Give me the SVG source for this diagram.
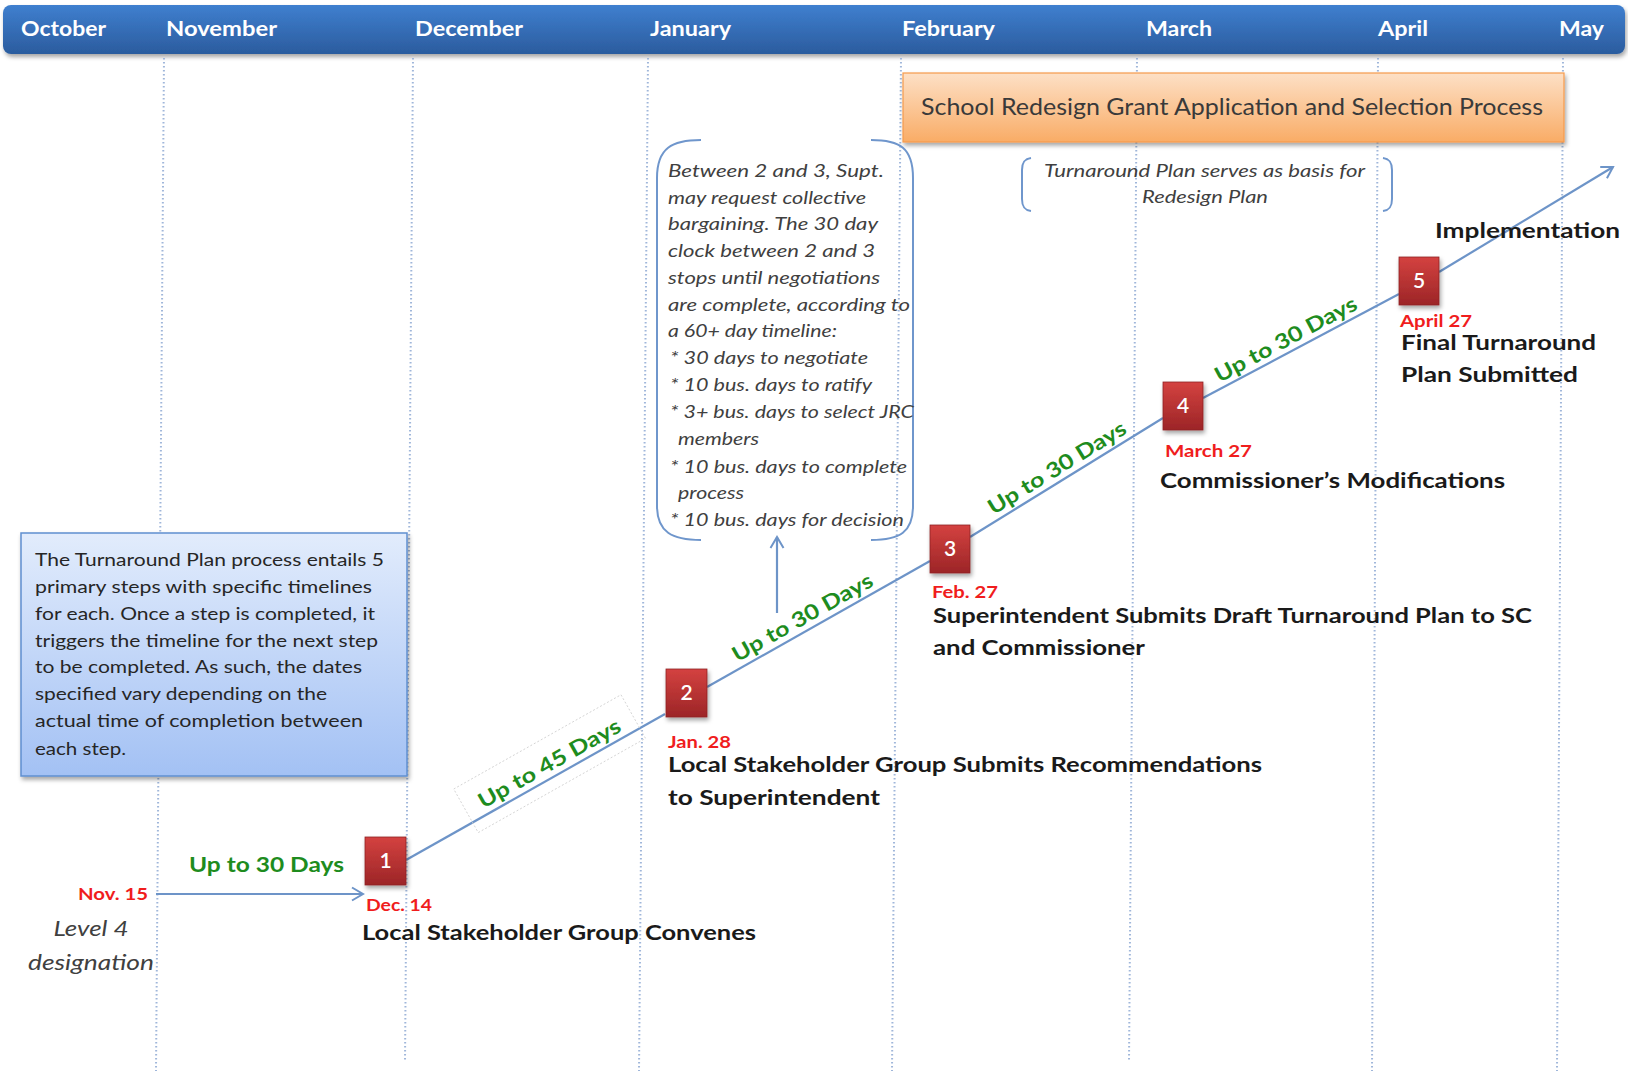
<svg xmlns="http://www.w3.org/2000/svg" width="1628" height="1071" viewBox="0 0 1628 1071">
  <defs>
    <linearGradient id="gHeader" x1="0" y1="0" x2="0" y2="1">
      <stop offset="0" stop-color="#3f7fcf"/>
      <stop offset="1" stop-color="#2b5c9e"/>
    </linearGradient>
    <linearGradient id="gStep" x1="0" y1="0" x2="0" y2="1">
      <stop offset="0" stop-color="#d44240"/>
      <stop offset="1" stop-color="#9c2527"/>
    </linearGradient>
    <linearGradient id="gOrange" x1="0" y1="0" x2="0" y2="1">
      <stop offset="0" stop-color="#fde0c6"/>
      <stop offset="1" stop-color="#f9ac66"/>
    </linearGradient>
    <linearGradient id="gNote" x1="0" y1="0" x2="0" y2="1">
      <stop offset="0" stop-color="#e2ecfc"/>
      <stop offset="1" stop-color="#a3c1f4"/>
    </linearGradient>
    <filter id="shadow" x="-10%" y="-10%" width="130%" height="140%">
      <feDropShadow dx="1.5" dy="3" stdDeviation="2" flood-color="#000" flood-opacity="0.35"/>
    </filter>
    <marker id="chev" markerWidth="16" markerHeight="16" refX="13" refY="8" orient="auto" markerUnits="userSpaceOnUse">
      <path d="M2,1.5 L13,8 L2,14.5" fill="none" stroke="#6d94c8" stroke-width="2"/>
    </marker>
  </defs>
  <style>
    .month { font-family: Lato, "Liberation Sans", sans-serif; font-weight: bold; font-size: 21px; fill: #ffffff; }
    .grid { stroke: #9fb6da; stroke-width: 2; stroke-dasharray: 1.5 2.5; fill: none; }
    .flow { stroke: #6d94c8; stroke-width: 2.2; fill: none; }
    .brace { stroke: #6f96cc; stroke-width: 2; fill: none; }
    .step { fill: url(#gStep); stroke: #8f2224; stroke-width: 0.8; filter: url(#shadow); }
    .num { font-family: Lato, "Liberation Sans", sans-serif; font-size: 21px; font-weight: 600; fill: #ffffff; text-anchor: middle; }
    .date { font-family: Lato, "Liberation Sans", sans-serif; font-weight: bold; font-size: 17px; fill: #f01d1d; }
    .desc { font-family: Lato, "Liberation Sans", sans-serif; font-weight: bold; font-size: 21px; fill: #1a1a1a; }
    .days { font-family: Lato, "Liberation Sans", sans-serif; font-weight: bold; font-size: 21px; fill: #1e8c1e; }
    .ital { font-family: Lato, "Liberation Sans", sans-serif; font-style: italic; font-size: 17.5px; fill: #404040; }
    .ital-lg { font-family: Lato, "Liberation Sans", sans-serif; font-style: italic; font-size: 21px; fill: #404040; text-anchor: middle; }
    .body { font-family: Lato, "Liberation Sans", sans-serif; font-size: 17.5px; fill: #262626; }
  </style>

  <!-- month header -->
  <g id="header">
    <rect x="3" y="5" width="1622" height="49" rx="8" fill="url(#gHeader)" filter="url(#shadow)"/>
    <text class="month" x="21" y="36" textLength="85" lengthAdjust="spacingAndGlyphs">October</text>
    <text class="month" x="166" y="36" textLength="111" lengthAdjust="spacingAndGlyphs">November</text>
    <text class="month" x="415" y="36" textLength="108" lengthAdjust="spacingAndGlyphs">December</text>
    <text class="month" x="650" y="36" textLength="81" lengthAdjust="spacingAndGlyphs">January</text>
    <text class="month" x="902" y="36" textLength="93" lengthAdjust="spacingAndGlyphs">February</text>
    <text class="month" x="1146" y="36" textLength="66" lengthAdjust="spacingAndGlyphs">March</text>
    <text class="month" x="1378" y="36" textLength="50" lengthAdjust="spacingAndGlyphs">April</text>
    <text class="month" x="1559" y="36" textLength="45" lengthAdjust="spacingAndGlyphs">May</text>
  </g>

  <!-- month gridlines -->
  <g id="gridlines">
    <line class="grid" x1="164" y1="58" x2="156" y2="1071"/>
    <line class="grid" x1="413" y1="58" x2="405" y2="1062"/>
    <line class="grid" x1="648" y1="58" x2="639" y2="1071"/>
    <line class="grid" x1="901" y1="58" x2="892" y2="1071"/>
    <line class="grid" x1="1137" y1="58" x2="1129" y2="1062"/>
    <line class="grid" x1="1378" y1="58" x2="1372" y2="1071"/>
    <line class="grid" x1="1563" y1="58" x2="1557" y2="1071"/>
  </g>

  <!-- grant process banner -->
  <g id="grant-process">
    <rect x="903" y="73" width="661" height="69" fill="url(#gOrange)" stroke="#f59a4c" stroke-width="1.2" filter="url(#shadow)"/>
    <text x="921" y="115" font-family="Lato, 'Liberation Sans', sans-serif" font-size="23" fill="#3a3a3a" textLength="622" lengthAdjust="spacingAndGlyphs">School Redesign Grant Application and Selection Process</text>
  </g>

  <!-- redesign basis note -->
  <g id="redesign-note">
    <path class="brace" d="M1031,158 C1024,159 1022,163 1022,170 L1022,199 C1022,206 1024,210 1031,211"/>
    <path class="brace" d="M1383,158 C1390,159 1392,163 1392,170 L1392,199 C1392,206 1390,210 1383,211"/>
    <text class="ital" x="1044" y="177" textLength="321" lengthAdjust="spacingAndGlyphs">Turnaround Plan serves as basis for</text>
    <text class="ital" x="1142" y="203" textLength="126" lengthAdjust="spacingAndGlyphs">Redesign Plan</text>
  </g>

  <!-- collective bargaining note -->
  <g id="bargaining-note">
    <path class="brace" d="M701,140 C672,140 657,148 657,178 L657,506 C657,532 672,540 701,540"/>
    <path class="brace" d="M871,140 C900,140 913,148 913,178 L913,506 C913,532 900,540 871,540"/>
    <text class="ital" x="668" y="177" textLength="216" lengthAdjust="spacingAndGlyphs">Between 2 and 3, Supt.</text>
    <text class="ital" x="668" y="204" textLength="198" lengthAdjust="spacingAndGlyphs">may request collective</text>
    <text class="ital" x="668" y="230" textLength="210" lengthAdjust="spacingAndGlyphs">bargaining. The 30 day</text>
    <text class="ital" x="668" y="257" textLength="207" lengthAdjust="spacingAndGlyphs">clock between 2 and 3</text>
    <text class="ital" x="668" y="284" textLength="212" lengthAdjust="spacingAndGlyphs">stops until negotiations</text>
    <text class="ital" x="668" y="311" textLength="242" lengthAdjust="spacingAndGlyphs">are complete, according to</text>
    <text class="ital" x="668" y="337" textLength="169" lengthAdjust="spacingAndGlyphs">a 60+ day timeline:</text>
    <text class="ital" x="670" y="364" textLength="198" lengthAdjust="spacingAndGlyphs">* 30 days to negotiate</text>
    <text class="ital" x="670" y="391" textLength="202" lengthAdjust="spacingAndGlyphs">* 10 bus. days to ratify</text>
    <text class="ital" x="670" y="418" textLength="244" lengthAdjust="spacingAndGlyphs">* 3+ bus. days to select JRC</text>
    <text class="ital" x="678" y="445" textLength="81" lengthAdjust="spacingAndGlyphs">members</text>
    <text class="ital" x="670" y="473" textLength="237" lengthAdjust="spacingAndGlyphs">* 10 bus. days to complete</text>
    <text class="ital" x="678" y="499" textLength="66" lengthAdjust="spacingAndGlyphs">process</text>
    <text class="ital" x="670" y="526" textLength="234" lengthAdjust="spacingAndGlyphs">* 10 bus. days for decision</text>
  </g>

  <!-- process summary box -->
  <g id="summary-box">
    <rect x="21" y="533" width="386" height="243" fill="url(#gNote)" stroke="#5f8fd0" stroke-width="1.5" filter="url(#shadow)"/>
    <text class="body" x="35" y="566" textLength="349" lengthAdjust="spacingAndGlyphs">The Turnaround Plan process entails 5</text>
    <text class="body" x="35" y="593" textLength="337" lengthAdjust="spacingAndGlyphs">primary steps with specific timelines</text>
    <text class="body" x="35" y="620" textLength="340" lengthAdjust="spacingAndGlyphs">for each. Once a step is completed, it</text>
    <text class="body" x="35" y="647" textLength="343" lengthAdjust="spacingAndGlyphs">triggers the timeline for the next step</text>
    <text class="body" x="35" y="673" textLength="327" lengthAdjust="spacingAndGlyphs">to be completed. As such, the dates</text>
    <text class="body" x="35" y="700" textLength="292" lengthAdjust="spacingAndGlyphs">specified vary depending on the</text>
    <text class="body" x="35" y="727" textLength="328" lengthAdjust="spacingAndGlyphs">actual time of completion between</text>
    <text class="body" x="35" y="755" textLength="91" lengthAdjust="spacingAndGlyphs">each step.</text>
  </g>

  <!-- timeline connectors -->
  <g id="connectors">
    <line class="flow" x1="156" y1="894" x2="363" y2="894" marker-end="url(#chev)"/>
    <line class="flow" x1="406" y1="860" x2="665" y2="714"/>
    <line class="flow" x1="707" y1="687" x2="930" y2="561"/>
    <line class="flow" x1="970" y1="537" x2="1163" y2="418"/>
    <line class="flow" x1="1203" y1="398" x2="1399" y2="294"/>
    <line class="flow" x1="1439" y1="272" x2="1613" y2="167" marker-end="url(#chev)"/>
    <line class="flow" x1="777" y1="613" x2="777" y2="537" marker-end="url(#chev)"/>
  </g>

  <!-- durations between steps -->
  <g id="durations">
    <text class="days" x="189" y="872" textLength="155" lengthAdjust="spacingAndGlyphs">Up to 30 Days</text>
    <g transform="translate(556,775) rotate(-29.4)">
      <rect x="-96" y="-38" width="192" height="50" fill="none" stroke="#cfcfcf" stroke-width="0.8" stroke-dasharray="2 2"/>
      <text class="days" x="0" y="-6" text-anchor="middle" textLength="160" lengthAdjust="spacingAndGlyphs">Up to 45 Days</text>
    </g>
    <text class="days" transform="translate(809,629) rotate(-29.4)" x="0" y="-6" text-anchor="middle" textLength="158" lengthAdjust="spacingAndGlyphs">Up to 30 Days</text>
    <text class="days" transform="translate(1064,479) rotate(-31.6)" x="0" y="-6" text-anchor="middle" textLength="158" lengthAdjust="spacingAndGlyphs">Up to 30 Days</text>
    <text class="days" transform="translate(1292,351) rotate(-28.1)" x="0" y="-6" text-anchor="middle" textLength="158" lengthAdjust="spacingAndGlyphs">Up to 30 Days</text>
  </g>

  <!-- start: designation -->
  <g id="start">
    <text class="date" x="148" y="900" text-anchor="end" textLength="70" lengthAdjust="spacingAndGlyphs">Nov. 15</text>
    <text class="ital-lg" x="91" y="936" textLength="75" lengthAdjust="spacingAndGlyphs">Level 4</text>
    <text class="ital-lg" x="91" y="970" textLength="126" lengthAdjust="spacingAndGlyphs">designation</text>
  </g>

  <!-- step 1 -->
  <g id="step1">
    <rect class="step" x="365" y="837" width="41" height="48"/>
    <text class="num" x="385.5" y="868">1</text>
    <text class="date" x="366" y="911" textLength="66" lengthAdjust="spacingAndGlyphs">Dec. 14</text>
    <text class="desc" x="362" y="940" textLength="394" lengthAdjust="spacingAndGlyphs">Local Stakeholder Group Convenes</text>
  </g>

  <!-- step 2 -->
  <g id="step2">
    <rect class="step" x="666" y="669" width="41" height="48"/>
    <text class="num" x="686.5" y="700">2</text>
    <text class="date" x="668" y="748" textLength="63" lengthAdjust="spacingAndGlyphs">Jan. 28</text>
    <text class="desc" x="668" y="772" textLength="594" lengthAdjust="spacingAndGlyphs">Local Stakeholder Group Submits Recommendations</text>
    <text class="desc" x="668" y="805" textLength="212" lengthAdjust="spacingAndGlyphs">to Superintendent</text>
  </g>

  <!-- step 3 -->
  <g id="step3">
    <rect class="step" x="930" y="525" width="40" height="48"/>
    <text class="num" x="950" y="556">3</text>
    <text class="date" x="932" y="598" textLength="66" lengthAdjust="spacingAndGlyphs">Feb. 27</text>
    <text class="desc" x="933" y="623" textLength="599" lengthAdjust="spacingAndGlyphs">Superintendent Submits Draft Turnaround Plan to SC</text>
    <text class="desc" x="933" y="655" textLength="212" lengthAdjust="spacingAndGlyphs">and Commissioner</text>
  </g>

  <!-- step 4 -->
  <g id="step4">
    <rect class="step" x="1163" y="382" width="40" height="48"/>
    <text class="num" x="1183" y="413">4</text>
    <text class="date" x="1165" y="457" textLength="87" lengthAdjust="spacingAndGlyphs">March 27</text>
    <text class="desc" x="1160" y="488" textLength="345" lengthAdjust="spacingAndGlyphs">Commissioner’s Modifications</text>
  </g>

  <!-- step 5 -->
  <g id="step5">
    <rect class="step" x="1399" y="257" width="40" height="48"/>
    <text class="num" x="1419" y="288">5</text>
    <text class="date" x="1400" y="327" textLength="72" lengthAdjust="spacingAndGlyphs">April 27</text>
    <text class="desc" x="1401" y="350" textLength="195" lengthAdjust="spacingAndGlyphs">Final Turnaround</text>
    <text class="desc" x="1401" y="382" textLength="177" lengthAdjust="spacingAndGlyphs">Plan Submitted</text>
  </g>

  <!-- implementation -->
  <g id="implementation">
    <text class="desc" x="1435" y="238" textLength="185" lengthAdjust="spacingAndGlyphs">Implementation</text>
  </g>
</svg>
